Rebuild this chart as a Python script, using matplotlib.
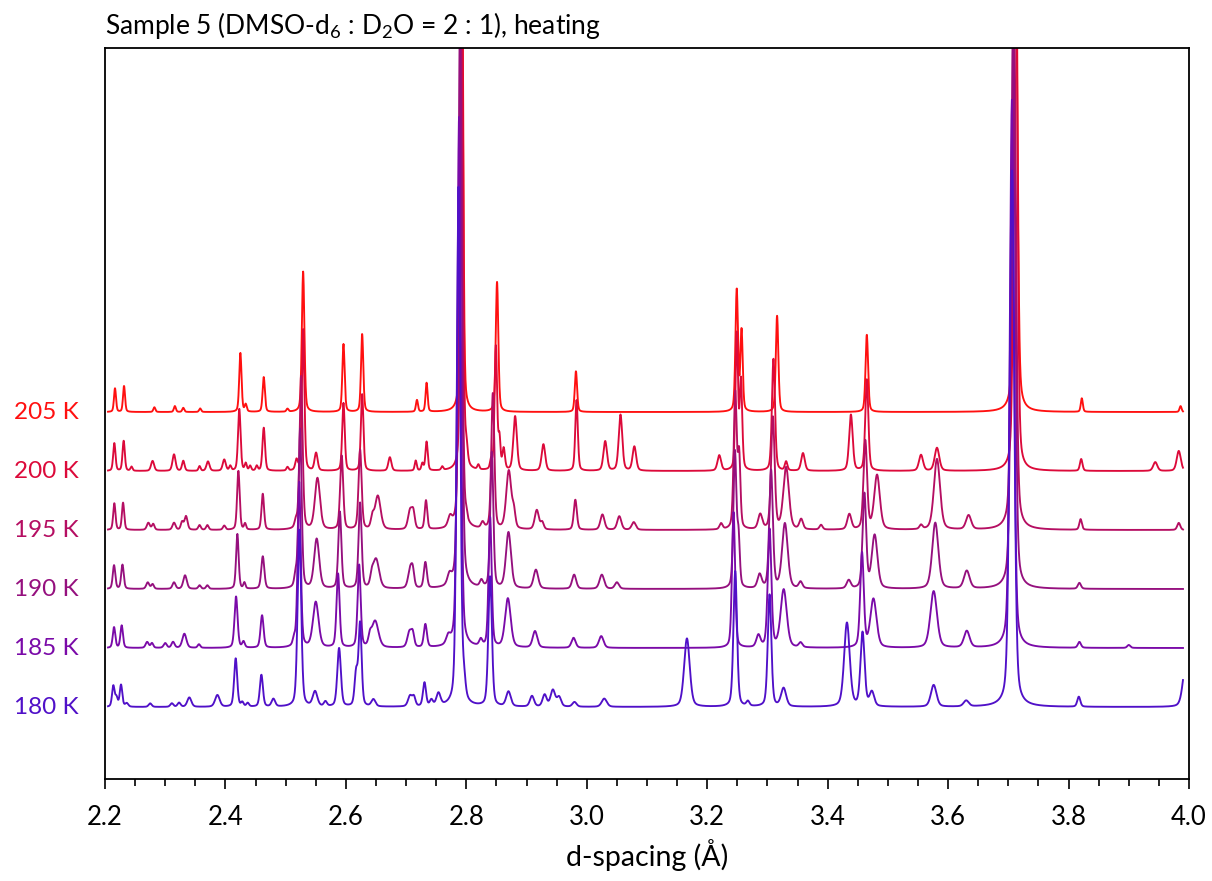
import numpy as np
import matplotlib
matplotlib.use("Agg")
import matplotlib.pyplot as plt
from matplotlib.ticker import MultipleLocator
import matplotlib.transforms as mtransforms

plt.rcParams['font.family'] = ['Lato', 'DejaVu Sans']
plt.rcParams['mathtext.fontset'] = 'custom'
plt.rcParams['mathtext.rm'] = 'Lato'

# ---- data: peak positions (Å), heights (offset units), widths (FWHM Å)
labels = ["180 K", "185 K", "190 K", "195 K", "200 K", "205 K"]
offsets = [0, 1, 2, 3, 4, 5]
colors = ["#5010c8", "#7a0aa8", "#95107e", "#b50e62", "#dc0a3a", "#ff1010"]

pos_205 = [2.2166, 2.2316, 2.282, 2.316, 2.330, 2.358, 2.4248, 2.4337, 2.4636, 2.503, 2.529,
           2.596, 2.627, 2.718, 2.734, 2.7925, 2.851, 2.982, 3.249, 3.257, 3.316, 3.465, 3.712,
           3.822, 3.986]
h_205 = [0.40, 0.44, 0.08, 0.10, 0.07, 0.06, 1.00, 0.12, 0.59, 0.05, 2.38,
         1.15, 1.32, 0.20, 0.49, 9.0, 2.20, 0.69, 2.06, 1.36, 1.63, 1.31, 9.5,
         0.23, 0.10]
w_205 = [0.004, 0.004, 0.004, 0.004, 0.004, 0.004, 0.0045, 0.004, 0.0045, 0.004, 0.005,
         0.0045, 0.0045, 0.004, 0.004, 0.005, 0.005, 0.0045, 0.005, 0.0045, 0.005, 0.005, 0.007,
         0.004, 0.004]

pos_200 = [2.2155, 2.231, 2.244, 2.279, 2.3146, 2.330, 2.357, 2.371, 2.398, 2.408, 2.423,
           2.4337, 2.441, 2.452, 2.4636, 2.503, 2.518, 2.529, 2.5505, 2.596, 2.627, 2.673,
           2.716, 2.727, 2.734, 2.760, 2.7925, 2.800, 2.820, 2.841, 2.849, 2.855, 2.862, 2.881,
           2.928, 2.983, 3.0306, 3.056, 3.079, 3.220, 3.249, 3.256, 3.310, 3.331, 3.359, 3.4386,
           3.465, 3.555, 3.5815, 3.712, 3.821, 3.944, 3.983]
h_200 = [0.47, 0.51, 0.07, 0.17, 0.28, 0.17, 0.08, 0.16, 0.19, 0.08, 1.05,
         0.12, 0.08, 0.08, 0.73, 0.06, 0.17, 2.40, 0.30, 1.15, 1.30, 0.23,
         0.17, 0.12, 0.49, 0.06, 9.0, 0.30, 0.08, 0.15, 2.10, 0.50, 0.35, 0.92,
         0.45, 1.20, 0.50, 0.95, 0.41, 0.26, 2.30, 1.50, 1.90, 0.15, 0.30, 0.95,
         1.55, 0.27, 0.39, 9.5, 0.20, 0.15, 0.34]
w_200 = [0.0045, 0.0045, 0.004, 0.006, 0.006, 0.005, 0.004, 0.006, 0.006, 0.004, 0.005,
         0.004, 0.004, 0.004, 0.005, 0.004, 0.005, 0.005, 0.006, 0.005, 0.005, 0.006,
         0.004, 0.004, 0.0045, 0.004, 0.005, 0.005, 0.004, 0.004, 0.005, 0.004, 0.005, 0.007,
         0.007, 0.005, 0.007, 0.007, 0.007, 0.007, 0.005, 0.005, 0.006, 0.005, 0.007, 0.007,
         0.006, 0.008, 0.009, 0.007, 0.005, 0.008, 0.008]

pos_195 = [2.2155, 2.230, 2.272, 2.280, 2.3146, 2.328, 2.3345, 2.357, 2.370, 2.398, 2.4215,
           2.4326, 2.462, 2.517, 2.5256, 2.5528, 2.593, 2.6236, 2.644, 2.653, 2.7066, 2.712,
           2.733, 2.773, 2.7905, 2.800, 2.827, 2.844, 2.8705, 2.879, 2.917, 2.926, 2.981,
           3.026, 3.054, 3.078, 3.223, 3.2465, 3.253, 3.288, 3.309, 3.331, 3.356, 3.389, 3.436,
           3.4625, 3.482, 3.555, 3.5815, 3.634, 3.709, 3.820, 3.983]
h_195 = [0.45, 0.46, 0.12, 0.10, 0.12, 0.13, 0.23, 0.08, 0.08, 0.07, 1.00,
         0.10, 0.61, 0.12, 2.60, 0.87, 1.25, 1.35, 0.18, 0.57, 0.32, 0.26,
         0.49, 0.17, 9.5, 0.10, 0.10, 2.30, 0.99, 0.25, 0.33, 0.12, 0.51,
         0.26, 0.23, 0.13, 0.10, 2.30, 1.20, 0.25, 1.90, 1.05, 0.17, 0.08, 0.26,
         1.50, 0.92, 0.07, 1.20, 0.24, 9.5, 0.18, 0.12]
w_195 = [0.0045, 0.0045, 0.006, 0.005, 0.006, 0.005, 0.006, 0.005, 0.005, 0.005, 0.005,
         0.004, 0.005, 0.005, 0.006, 0.010, 0.006, 0.006, 0.006, 0.011, 0.008, 0.006,
         0.005, 0.008, 0.006, 0.004, 0.006, 0.006, 0.010, 0.006, 0.008, 0.006, 0.006,
         0.008, 0.008, 0.008, 0.006, 0.006, 0.005, 0.008, 0.007, 0.011, 0.007, 0.006, 0.008,
         0.007, 0.011, 0.006, 0.012, 0.010, 0.008, 0.005, 0.006]

pos_190 = [2.215, 2.229, 2.271, 2.279, 2.3146, 2.3329, 2.357, 2.370, 2.4198, 2.4315, 2.462,
           2.5165, 2.524, 2.5515, 2.590, 2.6236, 2.643, 2.650, 2.7066, 2.711, 2.732, 2.772,
           2.7895, 2.825, 2.8423, 2.870, 2.9155, 2.979, 3.025, 3.050, 3.246, 3.252, 3.287,
           3.306, 3.329, 3.355, 3.435, 3.461, 3.478, 3.5787, 3.631, 3.708, 3.818]
h_190 = [0.40, 0.41, 0.11, 0.08, 0.11, 0.23, 0.06, 0.06, 0.93, 0.10, 0.55,
         0.20, 2.70, 0.84, 1.30, 1.45, 0.15, 0.50, 0.31, 0.26, 0.44, 0.17,
         9.5, 0.11, 2.30, 0.95, 0.32, 0.24, 0.24, 0.11, 2.30, 0.80, 0.23,
         2.00, 1.10, 0.11, 0.14, 1.60, 0.90, 1.12, 0.30, 9.5, 0.10]
w_190 = [0.005, 0.005, 0.006, 0.005, 0.006, 0.007, 0.005, 0.005, 0.005, 0.004, 0.006,
         0.005, 0.006, 0.010, 0.006, 0.006, 0.006, 0.012, 0.008, 0.006, 0.006, 0.008,
         0.007, 0.006, 0.006, 0.010, 0.009, 0.008, 0.009, 0.008, 0.006, 0.005, 0.008,
         0.007, 0.011, 0.007, 0.008, 0.007, 0.011, 0.012, 0.011, 0.008, 0.006]

pos_185 = [2.215, 2.2277, 2.270, 2.278, 2.300, 2.313, 2.3318, 2.356, 2.4176, 2.430, 2.4608,
           2.514, 2.5225, 2.550, 2.587, 2.622, 2.640, 2.6485, 2.7055, 2.711, 2.732, 2.770,
           2.788, 2.824, 2.8395, 2.869, 2.914, 2.978, 3.024, 3.2437, 3.285, 3.3035, 3.327,
           3.355, 3.457, 3.476, 3.576, 3.631, 3.706, 3.818, 3.900]
h_185 = [0.35, 0.38, 0.10, 0.08, 0.08, 0.10, 0.24, 0.06, 0.87, 0.10, 0.55,
         0.12, 2.80, 0.77, 1.25, 1.40, 0.15, 0.45, 0.26, 0.22, 0.39, 0.14,
         9.0, 0.11, 2.20, 0.83, 0.28, 0.17, 0.20, 2.30, 0.20, 2.00, 0.98,
         0.08, 1.60, 0.82, 0.96, 0.28, 9.3, 0.10, 0.05]
w_185 = [0.005, 0.005, 0.006, 0.005, 0.006, 0.006, 0.008, 0.005, 0.006, 0.005, 0.006,
         0.005, 0.006, 0.011, 0.006, 0.006, 0.006, 0.013, 0.008, 0.006, 0.006, 0.008,
         0.007, 0.006, 0.006, 0.011, 0.009, 0.008, 0.009, 0.006, 0.008, 0.007, 0.012,
         0.007, 0.007, 0.012, 0.013, 0.011, 0.008, 0.006, 0.006]

pos_180 = [2.2138, 2.219, 2.2266, 2.236, 2.275, 2.311, 2.323, 2.340, 2.3866, 2.417, 2.428,
           2.437, 2.4597, 2.4796, 2.5228, 2.5488, 2.566, 2.5887, 2.617, 2.6236, 2.6457,
           2.7066, 2.713, 2.7305, 2.742, 2.7537, 2.787, 2.796, 2.8395, 2.870, 2.909, 2.930,
           2.9437, 2.954, 2.9796, 3.029, 3.1663, 3.2465, 3.2675, 3.3035, 3.3268, 3.432,
           3.4579, 3.4734, 3.576, 3.630, 3.706, 3.817, 3.995]
h_180 = [0.35, 0.15, 0.37, 0.06, 0.06, 0.06, 0.07, 0.16, 0.20, 0.82, 0.07,
         0.06, 0.54, 0.13, 3.00, 0.25, 0.08, 0.99, 0.55, 1.40, 0.12,
         0.18, 0.15, 0.40, 0.10, 0.21, 8.8, 0.30, 2.20, 0.25, 0.18, 0.20,
         0.28, 0.16, 0.08, 0.14, 1.16, 2.30, 0.08, 1.90, 0.31, 1.42,
         1.25, 0.24, 0.37, 0.10, 9.1, 0.17, 0.75]
w_180 = [0.005, 0.005, 0.005, 0.006, 0.006, 0.006, 0.006, 0.008, 0.009, 0.006, 0.005,
         0.005, 0.006, 0.007, 0.007, 0.009, 0.006, 0.007, 0.006, 0.006, 0.008,
         0.008, 0.006, 0.006, 0.006, 0.008, 0.007, 0.006, 0.007, 0.009, 0.008, 0.008,
         0.009, 0.008, 0.008, 0.010, 0.011, 0.007, 0.006, 0.007, 0.010, 0.011,
         0.008, 0.009, 0.011, 0.010, 0.009, 0.006, 0.012]

peaks = [(pos_180, h_180, w_180), (pos_185, h_185, w_185), (pos_190, h_190, w_190),
         (pos_195, h_195, w_195), (pos_200, h_200, w_200), (pos_205, h_205, w_205)]


def profile(x, pos, h, w, eta=0.35):
    y = np.zeros_like(x)
    for p, a, f in zip(pos, h, w):
        g = np.exp(-4 * np.log(2) * ((x - p) / f) ** 2)
        l = 1.0 / (1.0 + 4 * ((x - p) / f) ** 2)
        y += a * (eta * l + (1 - eta) * g)
    return y


fig = plt.figure(figsize=(12.12, 8.81), dpi=100)
ax = fig.add_axes([105 / 1212, 1 - 779 / 881, (1189 - 105) / 1212, (779 - 48) / 881])

x = np.linspace(2.205, 3.99, 6000)
order = list(range(len(labels)))[::-1]  # draw 205 K first, 180 K last
for i in order:
    pos, h, w = peaks[i]
    y = profile(x, pos, h, w) + offsets[i]
    ax.plot(x, y, color=colors[i], lw=1.35, solid_joinstyle='round')

trans = mtransforms.blended_transform_factory(ax.transAxes, ax.transData)
for i, lab in enumerate(labels):
    ax.text(-0.024, offsets[i], lab, transform=trans, ha='right', va='center',
            color=colors[i], fontsize=17.5)

ax.set_xlim(2.2, 4.0)
ax.set_ylim(-1.22, 11.17)
ax.set_yticks([])
ax.xaxis.set_minor_locator(MultipleLocator(0.05))
ax.set_xticks([2.2, 2.4, 2.6, 2.8, 3.0, 3.2, 3.4, 3.6, 3.8, 4.0])
ax.set_xticklabels(["2.2", "2.4", "2.6", "2.8", "3.0", "3.2", "3.4", "3.6", "3.8", "4.0"])
ax.tick_params(axis='x', which='major', direction='out', length=7, width=1.2,
               labelsize=18.5, pad=12)
ax.tick_params(axis='x', which='minor', direction='out', length=5, width=1.2)
for s in ax.spines.values():
    s.set_linewidth(1.3)
ax.set_xlabel("d-spacing (Å)", fontsize=20.5, labelpad=6)
ax.set_title(r"Sample 5 (DMSO-d$\mathregular{_6}$ : D$\mathregular{_2}$O = 2 : 1), heating",
             loc='left', fontsize=19, pad=10)

fig.savefig("out.png", dpi=100)
